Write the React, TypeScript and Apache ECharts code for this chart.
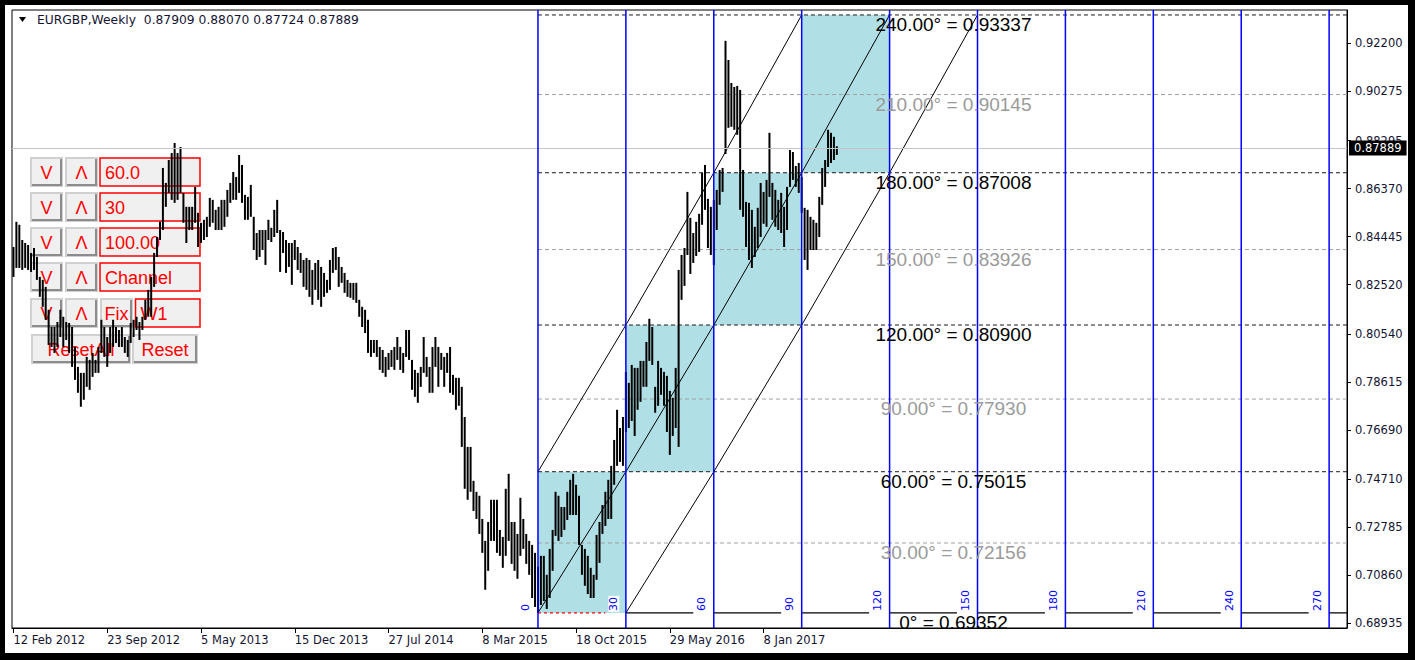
import React, { useEffect, useRef } from "react";
import * as echarts from "echarts";

// ---------------- data ----------------
const WEEK_HIGH = [
  0.8403, 0.8504, 0.8492, 0.8431, 0.8419, 0.8411, 0.8379, 0.8399, 0.8363, 0.8283,
  0.8271, 0.8243, 0.8151, 0.8082, 0.8082, 0.8102, 0.8151, 0.8123, 0.8102, 0.8098,
  0.8082, 0.8002, 0.7922, 0.7898, 0.7898, 0.7962, 0.795, 0.7978, 0.795, 0.8002,
  0.8111, 0.8082, 0.8042, 0.8082, 0.8111, 0.8082, 0.807, 0.8082, 0.8042, 0.803,
  0.8098, 0.8111, 0.8123, 0.8102, 0.8123, 0.8191, 0.8231, 0.8283, 0.8379, 0.8443,
  0.8504, 0.872, 0.866, 0.8752, 0.878, 0.882, 0.878, 0.8804, 0.862, 0.8564,
  0.8564, 0.8564, 0.8644, 0.854, 0.85, 0.8512, 0.8524, 0.86, 0.8592, 0.8552,
  0.8564, 0.8592, 0.8592, 0.8632, 0.866, 0.8704, 0.8684, 0.8772, 0.8732, 0.8612,
  0.8604, 0.8652, 0.8524, 0.8459, 0.8471, 0.8471, 0.8471, 0.8512, 0.848, 0.8552,
  0.8592, 0.8471, 0.8463, 0.8431, 0.8419, 0.8419, 0.8431, 0.8403, 0.8379, 0.8351,
  0.8359, 0.8351, 0.8311, 0.8339, 0.8351, 0.8323, 0.8299, 0.8271, 0.8351, 0.8399,
  0.8403, 0.8363, 0.8323, 0.8299, 0.8271, 0.8259, 0.8259, 0.8259, 0.8191, 0.8163,
  0.8151, 0.8111, 0.803, 0.803, 0.803, 0.8002, 0.799, 0.7962, 0.7978, 0.799,
  0.8002, 0.8042, 0.8002, 0.7978, 0.807, 0.807, 0.795, 0.791, 0.7898, 0.7922,
  0.8042, 0.7962, 0.7922, 0.8002, 0.8042, 0.8002, 0.7978, 0.7962, 0.7978, 0.8002,
  0.789, 0.7878, 0.7878, 0.7842, 0.7721, 0.7601, 0.7601, 0.7465, 0.7421, 0.7405,
  0.7312, 0.7224, 0.73, 0.7389, 0.7389, 0.7389, 0.7268, 0.724, 0.7433, 0.7493,
  0.73, 0.73, 0.7252, 0.7397, 0.7312, 0.7252, 0.7224, 0.7208, 0.7176, 0.712,
  0.7164, 0.7164, 0.7088, 0.7192, 0.7268, 0.7421, 0.7405, 0.736, 0.736, 0.7421,
  0.7469, 0.7493, 0.7449, 0.7405, 0.7208, 0.7192, 0.7164, 0.7116, 0.7088, 0.7248,
  0.73, 0.7368, 0.7421, 0.7469, 0.7525, 0.7629, 0.775, 0.7677, 0.7721, 0.7902,
  0.7858, 0.793, 0.7918, 0.7918, 0.7946, 0.7946, 0.8022, 0.8115, 0.8082, 0.7842,
  0.7946, 0.7918, 0.7902, 0.7886, 0.7826, 0.7798, 0.7918, 0.8311, 0.8371, 0.8399,
  0.8624, 0.852, 0.8459, 0.8504, 0.8536, 0.87, 0.8732, 0.8596, 0.8564, 0.8592,
  0.8632, 0.8712, 0.872, 0.923, 0.9153, 0.9061, 0.9045, 0.9049, 0.9033, 0.8712,
  0.8584, 0.858, 0.8552, 0.8484, 0.856, 0.866, 0.8624, 0.8672, 0.8861, 0.866,
  0.8632, 0.8592, 0.862, 0.8564, 0.8644, 0.8792, 0.8784, 0.8728, 0.874, 0.8684,
  0.856, 0.8552, 0.8524, 0.8512, 0.85, 0.8604, 0.872, 0.8752, 0.8873, 0.8861,
  0.8845, 0.8807,
];

const WEEK_LOW = [
  0.8283, 0.8319, 0.8319, 0.8311, 0.8319, 0.8311, 0.8303, 0.8311, 0.8271, 0.8203,
  0.8163, 0.8111, 0.801, 0.8002, 0.7978, 0.8002, 0.8042, 0.8002, 0.803, 0.7978,
  0.7922, 0.787, 0.7818, 0.7762, 0.779, 0.7842, 0.783, 0.7882, 0.7898, 0.7898,
  0.7978, 0.7962, 0.7922, 0.7978, 0.8002, 0.8018, 0.8002, 0.8002, 0.7978, 0.7962,
  0.8018, 0.8042, 0.807, 0.803, 0.807, 0.8111, 0.8123, 0.8123, 0.8243, 0.8363,
  0.8431, 0.8471, 0.8564, 0.862, 0.8592, 0.858, 0.8592, 0.862, 0.85, 0.8419,
  0.8471, 0.8471, 0.85, 0.8403, 0.8419, 0.8431, 0.8443, 0.8484, 0.85, 0.8471,
  0.8471, 0.8471, 0.8484, 0.8524, 0.858, 0.8592, 0.8592, 0.862, 0.858, 0.8512,
  0.8512, 0.8524, 0.8391, 0.8351, 0.8363, 0.8391, 0.8331, 0.8431, 0.8423, 0.8443,
  0.8459, 0.8303, 0.8379, 0.8299, 0.8323, 0.8251, 0.8351, 0.8311, 0.8299, 0.8243,
  0.8231, 0.8203, 0.8171, 0.8231, 0.8191, 0.8163, 0.8203, 0.8219, 0.8231, 0.8299,
  0.8311, 0.8243, 0.8259, 0.8219, 0.8203, 0.8199, 0.8191, 0.8179, 0.8123, 0.8082,
  0.8058, 0.7978, 0.7962, 0.7978, 0.7962, 0.791, 0.7898, 0.7882, 0.791, 0.7922,
  0.791, 0.795, 0.791, 0.7898, 0.7962, 0.795, 0.783, 0.7802, 0.7778, 0.7842,
  0.7898, 0.7882, 0.7818, 0.7818, 0.7922, 0.7842, 0.791, 0.7842, 0.7898, 0.7818,
  0.781, 0.775, 0.7766, 0.7601, 0.7433, 0.7389, 0.7421, 0.7344, 0.7312, 0.7252,
  0.7176, 0.7028, 0.7104, 0.7224, 0.7224, 0.7176, 0.7164, 0.7116, 0.7164, 0.7224,
  0.7132, 0.7104, 0.7072, 0.7164, 0.7192, 0.7132, 0.7088, 0.6995, 0.6959, 0.69352,
  0.6967, 0.6983, 0.6951, 0.6995, 0.7104, 0.7244, 0.7224, 0.724, 0.7268, 0.7308,
  0.7328, 0.7328, 0.7328, 0.7208, 0.7088, 0.7044, 0.7011, 0.6995, 0.6995, 0.7068,
  0.7136, 0.7252, 0.7284, 0.7312, 0.7312, 0.7449, 0.7525, 0.7541, 0.7525, 0.7661,
  0.7677, 0.7705, 0.7645, 0.775, 0.7782, 0.7842, 0.7842, 0.7946, 0.793, 0.7738,
  0.7766, 0.781, 0.7766, 0.7661, 0.7569, 0.7645, 0.7677, 0.7601, 0.8191, 0.8247,
  0.8371, 0.8295, 0.8339, 0.8367, 0.8383, 0.8492, 0.8552, 0.8399, 0.8371, 0.8331,
  0.8471, 0.8572, 0.8624, 0.8776, 0.8881, 0.8885, 0.8873, 0.8853, 0.8552, 0.8524,
  0.8403, 0.8351, 0.8319, 0.8363, 0.8399, 0.8443, 0.8496, 0.8484, 0.8604, 0.8512,
  0.8484, 0.8471, 0.8459, 0.8403, 0.8471, 0.8644, 0.8672, 0.8644, 0.862, 0.854,
  0.8351, 0.8311, 0.8391, 0.8391, 0.8391, 0.8443, 0.8572, 0.8644, 0.8724, 0.874,
  0.8752, 0.87724,
];

const DATE_TICK_WEEKS = [0, 32, 64, 96, 128, 160, 192, 224, 256];
const DATE_TICK_LABELS = [
  "12 Feb 2012", "23 Sep 2012", "5 May 2013", "15 Dec 2013", "27 Jul 2014",
  "8 Mar 2015", "18 Oct 2015", "29 May 2016", "8 Jan 2017",
];
const PRICE_TICKS = [
  0.68935, 0.7086, 0.72785, 0.7471, 0.7669, 0.78615, 0.8054, 0.8252, 0.84445,
  0.8637, 0.88295, 0.90275, 0.922,
];
const GANN_START_WEEK = 179;
const GANN_STEPS = [0, 30, 60, 90, 120, 150, 180, 210, 240, 270];
const LEVEL_ANGLES = [0, 30, 60, 90, 120, 150, 180, 210, 240];
const LEVEL_PRICES = [0.69352, 0.72156, 0.75015, 0.7793, 0.809, 0.83926, 0.87008, 0.90145, 0.93337];
const LAST_PRICE = 0.87889;
const TITLE_OHLC = [0.87909, 0.8807, 0.87724, 0.87889];
const SYMBOL_TITLE = "EURGBP,Weekly";
const PANEL_FIELDS = ["60.0", "30", "100.00", "Channel", "W1"];

// ---------------- layout ----------------
const XMIN = -0.5;
const XMAX = 455.1;
const YMIN = 0.68746;
const YMAX = 0.93536;
const LABEL_WEEK = 320.8;
const SEG_WEEKS = 23;
const AXIS_FONT = "DejaVu Sans";
const AXIS_COLOR = "#141432";
const RED = "#ff0000";
const PANEL_FONT = '18px "Liberation Sans", Arial, sans-serif';

function button(x: number, y: number, w: number, h: number, label: string) {
  return [
    { type: "rect", z: 0, shape: { x, y, width: w, height: h }, style: { fill: "#f0f0f0", stroke: "#d0d0d0", lineWidth: 2 } },
    {
      type: "polyline", z: 0,
      shape: { points: [[x + 1, y + h - 1], [x + w - 1, y + h - 1], [x + w - 1, y + 1]] },
      style: { stroke: "#8c8c8c", lineWidth: 2, fill: "none" },
    },
    {
      type: "text", z: 0, x: x + w / 2, y: y + h / 2 + 1,
      style: { text: label, fill: RED, font: PANEL_FONT, textAlign: "center", textVerticalAlign: "middle", align: "center", verticalAlign: "middle" },
    },
  ];
}

function edit(x: number, y: number, w: number, h: number, label: string) {
  return [
    { type: "rect", z: 0, shape: { x, y, width: w, height: h }, style: { fill: "#f0f0f0", stroke: RED, lineWidth: 1.5 } },
    {
      type: "text", z: 0, x: x + 5, y: y + h / 2 + 1,
      style: { text: label, fill: RED, font: PANEL_FONT, textAlign: "left", textVerticalAlign: "middle", align: "left", verticalAlign: "middle" },
    },
  ];
}

function buildOption() {
  const W0 = GANN_START_WEEK;
  const barData = WEEK_HIGH.map((h, i) => [i, h, WEEK_LOW[i]]);
  const boxData = [0, 1, 2, 3].map((k) => [
    W0 + GANN_STEPS[k], LEVEL_PRICES[2 * k], W0 + GANN_STEPS[k + 1], LEVEL_PRICES[2 * k + 2],
  ]);
  const levelData = LEVEL_ANGLES.map((a, j) => [W0, LEVEL_PRICES[j], a]).filter((d) => d[2] !== 0);
  const labelData = LEVEL_ANGLES.map((a, j) => [LABEL_WEEK, LEVEL_PRICES[j], a]);
  const baseData = GANN_STEPS.map((s, k) => [W0 + s, W0 + s + SEG_WEEKS, LEVEL_PRICES[0], k]);
  const vlineData = GANN_STEPS.map((s) => [W0 + s, LEVEL_PRICES[0], s]);
  const middle = [0, 1, 2, 3, 4].map((k) => [W0 + GANN_STEPS[k], LEVEL_PRICES[2 * k]]);
  const upper = [0, 1, 2, 3].map((k) => [W0 + GANN_STEPS[k], LEVEL_PRICES[2 * k + 2]]);
  const lower = [0, 1, 2, 3, 4].map((k) => [W0 + GANN_STEPS[k + 1], LEVEL_PRICES[2 * k]]);

  const rowY = [158, 193, 228, 263, 299];
  const bh = 28;
  const panel: any[] = [];
  rowY.forEach((y, r) => {
    panel.push(...button(31, y, 31, bh, "V"));
    panel.push(...button(66, y, 31, bh, "Λ"));
    if (r < 4) panel.push(...edit(100, y, 100, bh, PANEL_FIELDS[r]));
    else {
      panel.push(...button(101, y, 31, bh, "Fix"));
      panel.push(...edit(135.5, y, 64.5, bh, PANEL_FIELDS[4]));
    }
  });
  panel.push(...button(32, 335, 98, bh, "ResetAll"));
  panel.push(...button(133, 335, 64, bh, "Reset"));

  const frame = [
    { type: "rect", z: 100, shape: { x: 0, y: 0, width: 1415, height: 5 }, style: { fill: "#000" } },
    { type: "rect", z: 100, shape: { x: 0, y: 0, width: 5, height: 660 }, style: { fill: "#000" } },
    { type: "rect", z: 100, shape: { x: 1408, y: 0, width: 7, height: 660 }, style: { fill: "#000" } },
    { type: "rect", z: 100, shape: { x: 0, y: 653, width: 1415, height: 7 }, style: { fill: "#000" } },
    { type: "polygon", z: 100, shape: { points: [[19, 17], [26, 17], [22.5, 22]] }, style: { fill: "#000" } },
    {
      type: "text", z: 100, x: 37, y: 20,
      style: {
        text: `${SYMBOL_TITLE}  ${TITLE_OHLC.map((v) => v.toFixed(5)).join(" ")}`,
        fill: AXIS_COLOR, font: `12.3px "${AXIS_FONT}"`,
        textAlign: "left", textVerticalAlign: "middle", align: "left", verticalAlign: "middle",
      },
    },
  ];

  return {
    animation: false,
    backgroundColor: "#ffffff",
    grid: {
      left: 12, top: 10, right: 68, bottom: 32,
      show: true, borderColor: "#000", borderWidth: 1, backgroundColor: "transparent",
      containLabel: false, outerBoundsMode: "none",
    },
    xAxis: {
      type: "value", min: XMIN, max: XMAX,
      splitLine: { show: false },
      axisLine: { show: true, onZero: false, lineStyle: { color: "#000", width: 1 } },
      axisTick: { show: true, customValues: DATE_TICK_WEEKS, length: 5, lineStyle: { color: "#000" } },
      axisLabel: {
        customValues: DATE_TICK_WEEKS,
        formatter: (v: number) => {
          const idx = DATE_TICK_WEEKS.indexOf(Math.round(v));
          return idx >= 0 ? DATE_TICK_LABELS[idx] : "";
        },
        align: "left", margin: 6, color: AXIS_COLOR, fontSize: 11.5, fontFamily: AXIS_FONT,
      },
    },
    yAxis: {
      type: "value", position: "right", min: YMIN, max: YMAX,
      splitLine: { show: false },
      axisLine: { show: true, onZero: false, lineStyle: { color: "#000", width: 1 } },
      axisTick: { show: true, customValues: PRICE_TICKS, length: 4, lineStyle: { color: "#000" } },
      axisLabel: {
        customValues: PRICE_TICKS,
        formatter: (v: number) => v.toFixed(5),
        margin: 8, color: AXIS_COLOR, fontSize: 11.5, fontFamily: AXIS_FONT,
      },
    },
    graphic: { elements: [...panel, ...frame] },
    series: [
      {
        type: "custom", name: "boxes", z: 1, silent: true, clip: true,
        data: boxData, encode: { x: [0, 2], y: [1, 3] },
        renderItem: (params: any, api: any) => {
          const a = api.coord([api.value(0), api.value(1)]);
          const b = api.coord([api.value(2), api.value(3)]);
          return {
            type: "rect",
            shape: { x: a[0], y: b[1], width: b[0] - a[0], height: a[1] - b[1] },
            style: { fill: "#b0e0e6" },
          };
        },
      },
      {
        type: "custom", name: "levels", z: 2, silent: true, clip: true,
        data: levelData, encode: { x: 0, y: 1 },
        renderItem: (params: any, api: any) => {
          const a = api.coord([api.value(0), api.value(1)]);
          const cs = params.coordSys;
          const major = api.value(2) % 60 === 0;
          return {
            type: "line",
            shape: { x1: a[0], y1: a[1], x2: cs.x + cs.width, y2: a[1] },
            style: { stroke: major ? "#1a1a1a" : "#a0a0a0", lineWidth: 1, lineDash: [4, 3] },
          };
        },
      },
      {
        type: "custom", name: "base", z: 2, silent: true, clip: true,
        data: baseData, encode: { x: [0, 1], y: 2 },
        renderItem: (params: any, api: any) => {
          const a = api.coord([api.value(0), api.value(2)]);
          const b = api.coord([api.value(1), api.value(2)]);
          const first = api.value(3) === 0;
          return {
            type: "line",
            shape: { x1: a[0], y1: a[1], x2: b[0], y2: b[1] },
            style: first
              ? { stroke: "#ff0000", lineWidth: 1.2, lineDash: [3, 3] }
              : { stroke: "#000", lineWidth: 1.2 },
          };
        },
      },
      {
        type: "custom", name: "bars", z: 3, silent: true, clip: true,
        data: barData, encode: { x: 0, y: [1, 2] },
        renderItem: (params: any, api: any) => {
          const x = api.value(0);
          const a = api.coord([x, api.value(1)]);
          const b = api.coord([x, api.value(2)]);
          return {
            type: "line",
            shape: { x1: a[0], y1: a[1], x2: b[0], y2: b[1] },
            style: { stroke: "#000", lineWidth: 2 },
          };
        },
      },
      {
        type: "line", name: "middle", z: 4, silent: true, data: middle,
        showSymbol: false, symbol: "none", lineStyle: { color: "#000", width: 1 },
        markLine: {
          silent: true, symbol: ["none", "none"], animation: false,
          lineStyle: { color: "#c4c4c4", width: 1, type: "solid" },
          label: {
            show: true, position: "end", distance: 2,
            formatter: () => LAST_PRICE.toFixed(5),
            color: "#fff", backgroundColor: "#000", padding: [2, 5, 1, 5],
            fontSize: 11.5, fontFamily: AXIS_FONT,
          },
          data: [{ yAxis: LAST_PRICE }],
        },
      },
      {
        type: "line", name: "upper", z: 4, silent: true, data: upper,
        showSymbol: false, symbol: "none", lineStyle: { color: "#000", width: 1 },
      },
      {
        type: "line", name: "lower", z: 4, silent: true, data: lower,
        showSymbol: false, symbol: "none", lineStyle: { color: "#000", width: 1 },
      },
      {
        type: "custom", name: "vlines", z: 5, silent: true, clip: false,
        data: vlineData, encode: { x: 0, y: 1 },
        renderItem: (params: any, api: any) => {
          const p = api.coord([api.value(0), api.value(1)]);
          const cs = params.coordSys;
          return {
            type: "group",
            children: [
              {
                type: "line",
                shape: { x1: p[0], y1: cs.y, x2: p[0], y2: cs.y + cs.height },
                style: { stroke: "#0000ff", lineWidth: 1.5 },
              },
              {
                type: "text", x: p[0] - 12, y: p[1] - 1, rotation: Math.PI / 2,
                style: {
                  text: String(api.value(2)), fill: "#0000ff", fontSize: 11, fontFamily: AXIS_FONT,
                  align: "left", verticalAlign: "middle", backgroundColor: "#fff", padding: [0, 1, 0, 1],
                },
              },
            ],
          };
        },
      },
      {
        type: "custom", name: "levelLabels", z: 6, silent: true, clip: true,
        data: labelData, encode: { x: 0, y: 1 },
        renderItem: (params: any, api: any) => {
          const a = api.coord([api.value(0), api.value(1)]);
          const ang = api.value(2);
          const price = api.value(1);
          const text = ang === 0 ? `0° = ${price.toFixed(5)}` : `${ang.toFixed(2)}° = ${price.toFixed(5)}`;
          return {
            type: "text", x: a[0], y: a[1],
            style: {
              text, fill: ang % 60 === 0 ? "#000" : "#9a9a9a",
              fontSize: 19, fontFamily: "Liberation Sans", align: "center", verticalAlign: "top",
            },
          };
        },
      },
    ],
  };
}

export default function App() {
  const ref = useRef<HTMLDivElement>(null);
  useEffect(() => {
    if (!ref.current) return;
    const chart = echarts.init(ref.current, null, { renderer: "svg" });
    chart.setOption(buildOption() as any);
    return () => chart.dispose();
  }, []);
  return (
    <div
      ref={ref}
      style={{ position: "absolute", left: 0, top: 0, width: 1415, height: 660, background: "#fff" }}
    />
  );
}
